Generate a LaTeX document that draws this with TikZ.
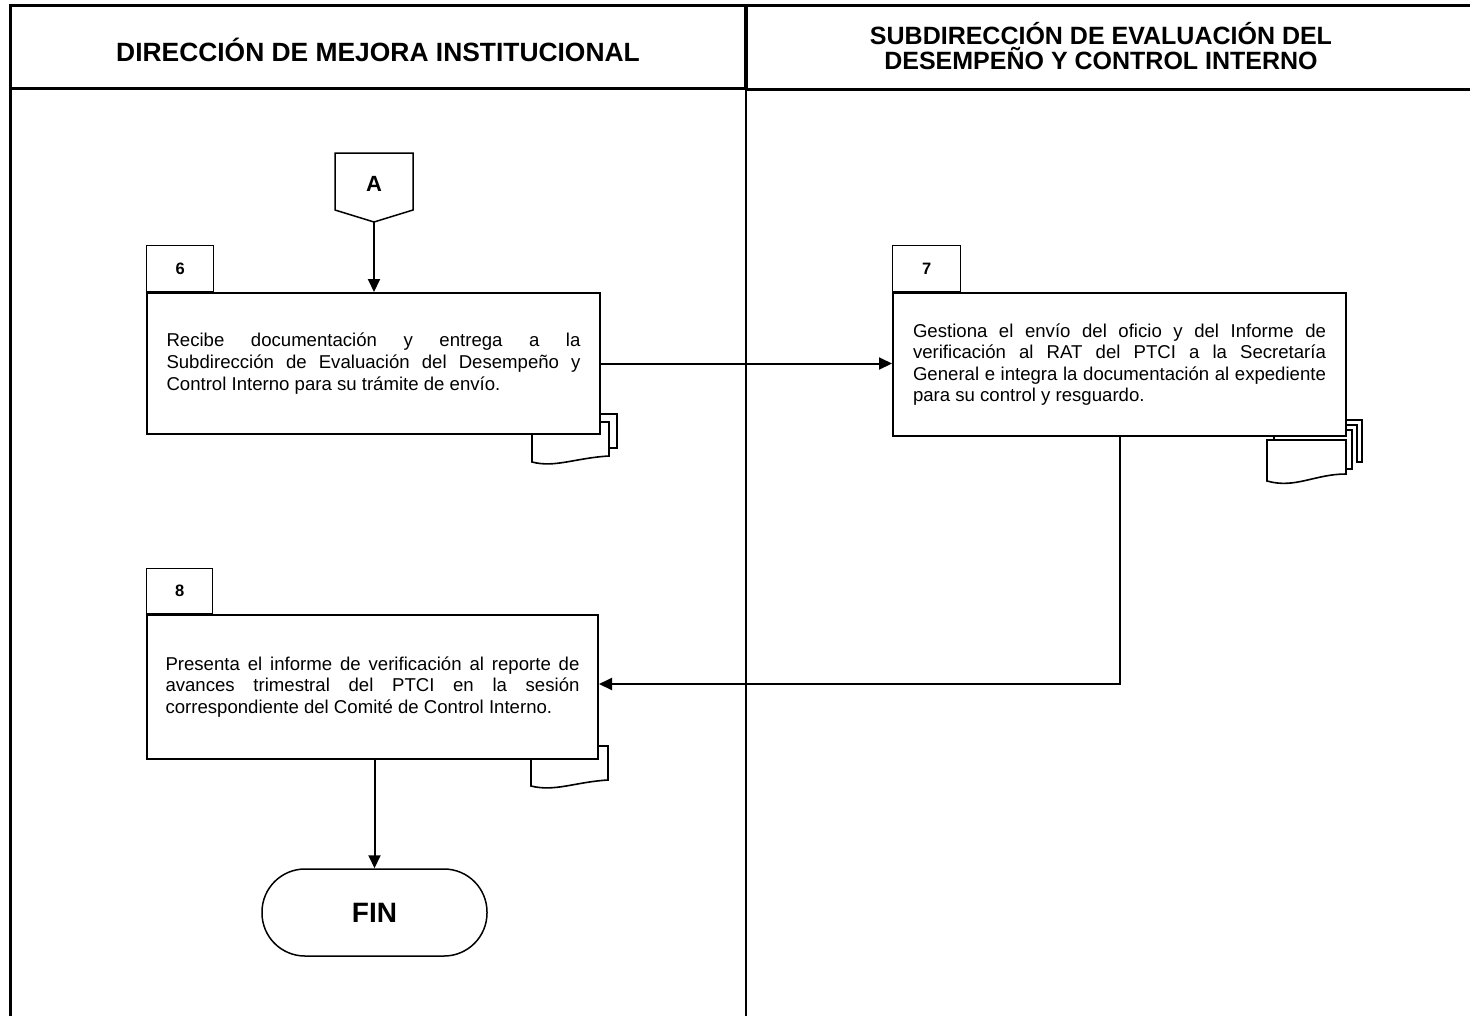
\documentclass[tikz,border=0pt]{standalone}
\usepackage{fontspec}
\setmainfont{Liberation Sans}
\usetikzlibrary{arrows.meta}
\tikzset{
  frameline/.style={line width=3pt},
  procbox/.style={draw, line width=2pt, inner sep=0pt, font=\fontsize{18.6}{21.6}\selectfont, align=left},
  numtab/.style={draw, line width=1.3pt, minimum width=67pt, minimum height=46pt, anchor=south west, inner sep=0pt, font=\bfseries\fontsize{16.5}{18}\selectfont},
  flow/.style={line width=2pt, -{Triangle[length=13pt,width=12pt]}},
  docline/.style={line width=1.6pt, line join=miter},
  hdr/.style={font=\bfseries\fontsize{25}{25}\selectfont, align=center, inner sep=0pt}
}
\begin{document}
\begin{tikzpicture}[x=1pt,y=-1pt]
\useasboundingbox (0,0) rectangle (1470,1018);
% frame
\draw[frameline] (10,1016) -- (10,5) -- (1472,5);
\draw[frameline] (10,88) -- (746,88);
\draw[line width=3.5pt] (746,89.5) -- (1472,89.5);
\draw[line width=3.5pt] (746,5) -- (746,89.5);
\draw[line width=2.5pt] (746,89.5) -- (746,1016);
% headers
\node[hdr, font=\bfseries\fontsize{26.4}{25}\selectfont] (h1) at (378,50) {DIRECCIÓN DE MEJORA INSTITUCIONAL};
\node[hdr] (h2) at (1101,46) {SUBDIRECCIÓN DE EVALUACIÓN DEL\\DESEMPEÑO Y CONTROL INTERNO};
% connector A
\draw[line width=1.5pt] (335,153) -- (413,153) -- (413,210) -- (374,222) -- (335,210) -- cycle;
\coordinate (Abot) at (374,222);
\node[font=\bfseries\fontsize{22}{24}\selectfont, inner sep=0pt] (A) at (374,184) {A};
% box 6
\node[procbox, minimum width=453pt, minimum height=141pt] (box6) at (373.5,363.5)
 {\makebox[414pt][s]{Recibe documentación y entrega a la}\\
  \makebox[414pt][s]{Subdirección de Evaluación del Desempeño y}\\
  Control Interno para su trámite de envío.};
\node[numtab] (t6) at (box6.north west) {6};
% box 7
\node[procbox, minimum width=453pt, minimum height=143pt] (box7) at (1119.5,364.5)
 {\makebox[413pt][s]{Gestiona el envío del oficio y del Informe de}\\
  \makebox[413pt][s]{verificación al RAT del PTCI a la Secretaría}\\
  \makebox[413pt][s]{General e integra la documentación al expediente}\\
  para su control y resguardo.};
\node[numtab, minimum width=68pt] (t7) at (box7.north west) {7};
% box 8
\node[procbox, minimum width=451pt, minimum height=144pt] (box8) at (372.5,687)
 {\makebox[414pt][s]{Presenta el informe de verificación al reporte de}\\
  \makebox[414pt][s]{avances trimestral del PTCI en la sesión}\\
  correspondiente del Comité de Control Interno.};
\node[numtab, minimum width=66pt, minimum height=45pt] (t8) at (box8.north west) {8};
% FIN
\node[draw, line width=1.5pt, rounded corners=43pt, minimum width=225pt, minimum height=87pt, inner sep=0pt, font=\bfseries\fontsize{28}{30}\selectfont] (fin) at (374.5,912.5) {FIN};
% documents of box 6
\draw[docline] (532,435) -- (532,462) .. controls (555,468) and (575,458) .. (609,456) -- (609,422) -- (601,422);
\draw[docline] (601,414) -- (617,414) -- (617,448) -- (609,448);
% documents of box 7
\draw[docline] (1362,448) -- (1362,420) -- (1346,420);
\draw[docline] (1357,455) -- (1357,462) -- (1362,462) -- (1362,448);
\draw[docline] (1346,425) -- (1357,425) -- (1357,455);
\draw[docline] (1346,430) -- (1352,430) -- (1352,469) -- (1346,469);
\draw[docline] (1274,436) -- (1274,440);
\draw[docline, fill=white] (1267,440) -- (1346,440) -- (1346,474) .. controls (1315,474) and (1295,489) .. (1267,481) -- cycle;
% document of box 8
\draw[docline] (531,759) -- (531,786) .. controls (555,792) and (575,782) .. (608,780) -- (608,746) -- (599,746);
% connectors
\draw[flow] (Abot) -- (Abot |- box6.north);
\draw[flow] (box6.east) -- (box6.east -| box7.west);
\coordinate (k7) at (1119.5,684);
\draw[flow] (box7.south) -- (k7) -- (k7 -| box8.east);
\draw[flow] (fin.north |- box8.south) -- (fin.north);
\end{tikzpicture}
\end{document}
